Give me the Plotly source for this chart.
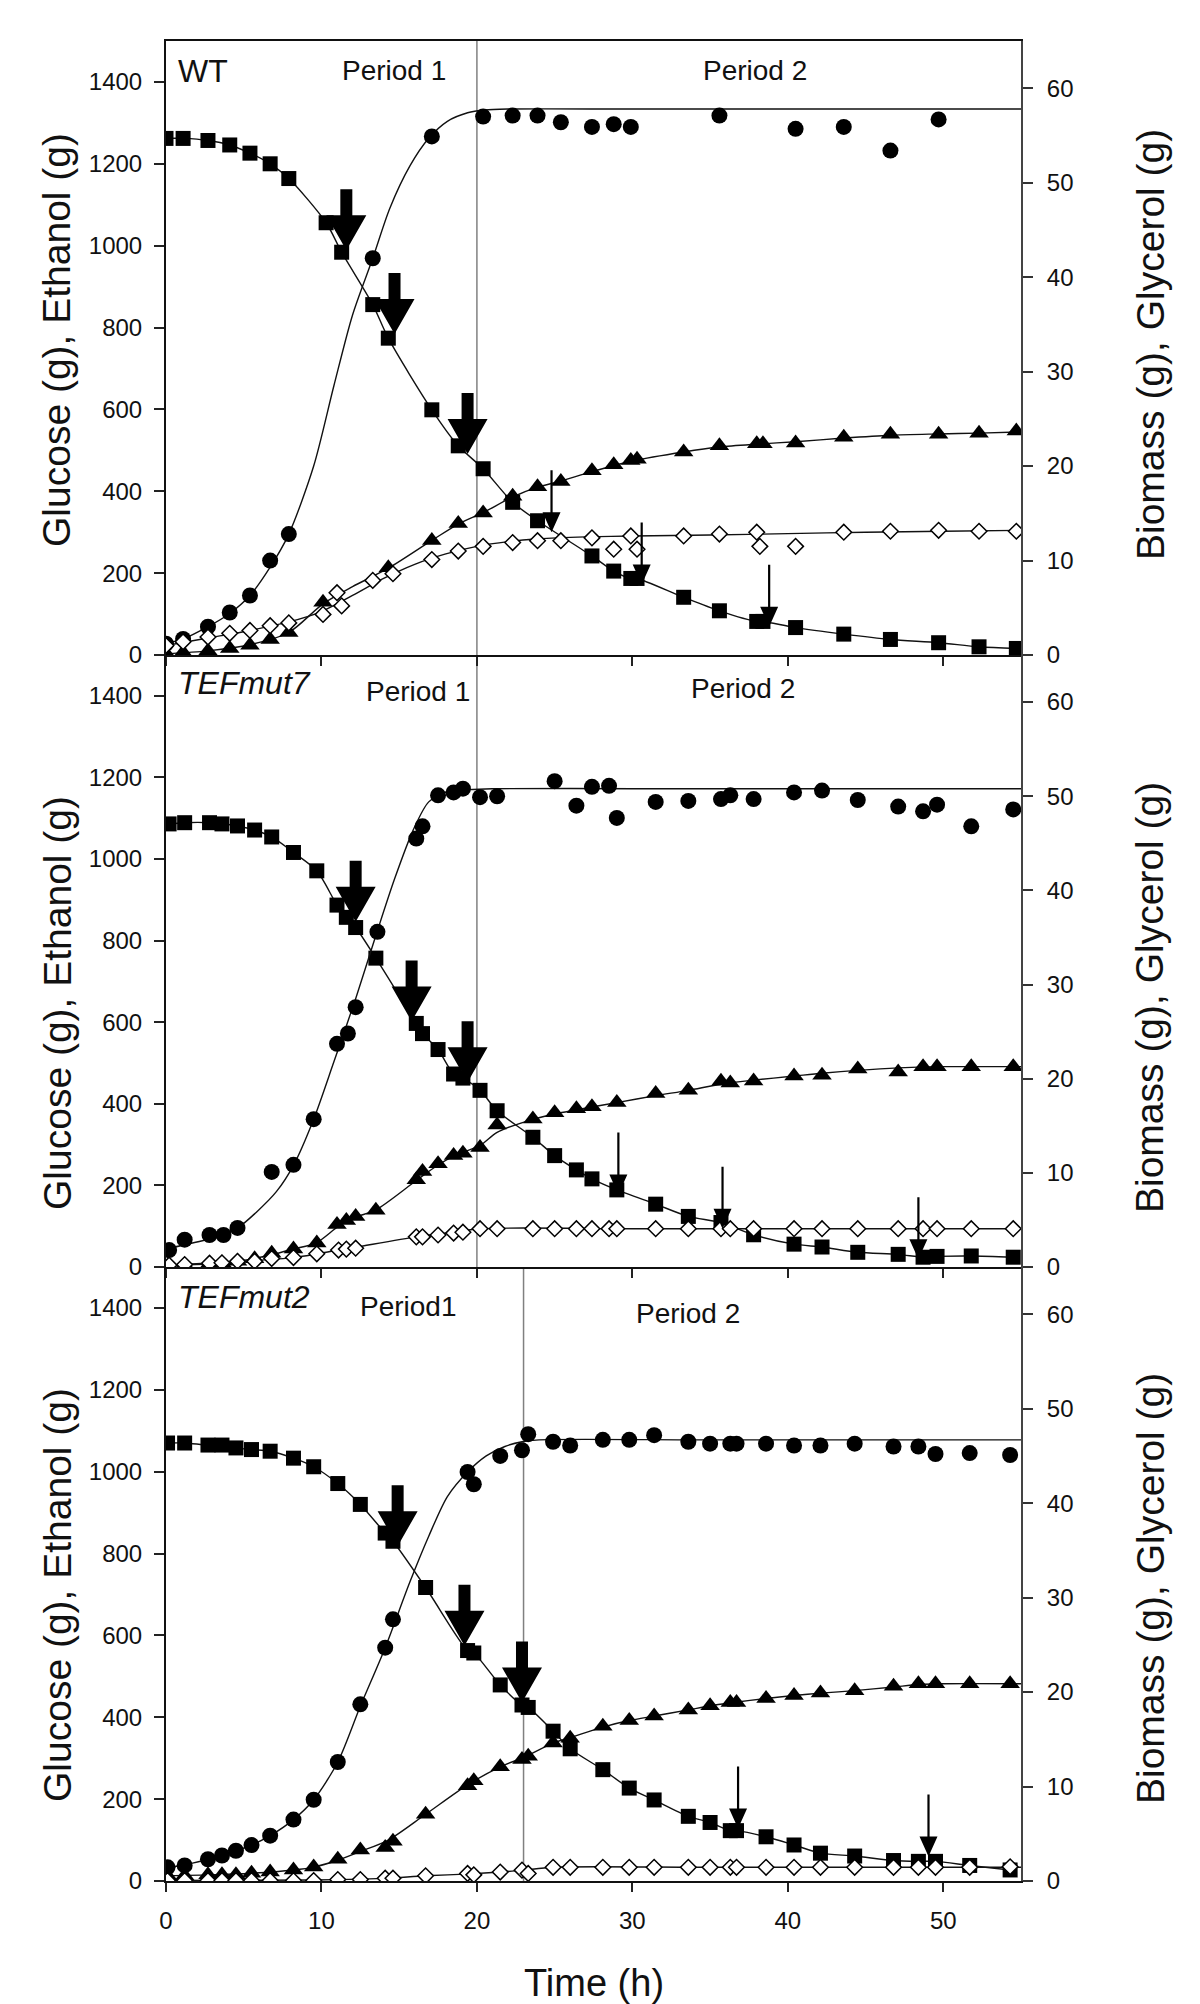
import plotly.graph_objects as go

FONT = "Liberation Sans, Arial, sans-serif"
W, H = 1200, 2004
PLOT_L, PLOT_R = 158, 1013
TOP, BOTTOM = 33, 1873
PANEL_TOPS = [33, 647, 1259]
PANEL_BOTS = [647, 1259, 1873]
T_RANGE = [0, 55]
LEFT_RANGE = [0, 1500]
RIGHT_RANGE = [0, 65]

# ---------------- WT ----------------
wt_glc_t = [0, 1.1, 2.7, 4.1, 5.4, 6.7, 7.9, 10.3, 11.3, 13.3, 14.3, 17.1, 18.8, 20.4, 22.3, 23.9, 27.4, 28.8,
            29.9, 30.3, 33.3, 35.6, 38.0, 38.4, 40.5, 43.6, 46.6, 49.7, 52.3, 54.7]
wt_glc = [1262, 1262, 1257, 1246, 1226, 1200, 1164, 1056, 984, 856, 774, 599, 511, 455, 373, 328, 242, 205,
          187, 187, 141, 108, 82, 82, 67, 51, 38, 30, 20, 16]
wt_eth_t = [0, 1.1, 2.7, 4.1, 5.4, 6.7, 7.9, 10.1, 14.3, 17.1, 18.8, 20.4, 22.3, 23.9, 25.4, 27.4, 28.8, 29.9,
            30.3, 33.3, 35.6, 38.0, 38.4, 40.5, 43.6, 46.6, 49.7, 52.3, 54.7]
wt_eth = [4, 6, 10, 16, 24, 38, 55, 129, 213, 280, 321, 347, 388, 411, 424, 450, 465, 475,
          478, 496, 511, 516, 516, 518, 532, 539, 539, 542, 547]
wt_bio_t = [0, 1.1, 2.7, 4.1, 5.4, 6.7, 7.9, 13.3, 17.1, 20.4, 22.3, 23.9, 25.4, 27.4, 28.8, 29.9, 35.6, 40.5,
            43.6, 46.6, 49.7]
wt_bio = [1.2, 1.7, 3.0, 4.5, 6.3, 10.0, 12.8, 42.0, 54.9, 57.0, 57.1, 57.1, 56.4, 55.9, 56.2, 55.9, 57.1, 55.7,
          55.9, 53.4, 56.7]
wt_gly_t = [0, 1.1, 2.7, 4.1, 5.4, 6.7, 7.9, 10.1, 11.0, 11.3, 13.3, 14.6, 17.1, 18.8, 20.4, 22.3, 23.9, 25.4,
            27.4, 28.8, 29.9, 30.3, 33.3, 35.6, 38.0, 38.2, 40.5, 43.6, 46.6, 49.7, 52.3, 54.7]
wt_gly = [1.0, 1.4, 1.9, 2.3, 2.6, 3.1, 3.4, 4.3, 6.6, 5.2, 7.9, 8.6, 10.1, 11.0, 11.5, 11.9, 12.1, 12.1,
          12.4, 11.2, 12.6, 11.2, 12.6, 12.8, 13.0, 11.5, 11.5, 13.0, 13.1, 13.2, 13.1, 13.1]
# fitted curves
wt_eth_fit_t = [0, 2.7, 5.4, 7.9, 10.1, 12.0, 14.3, 17.1, 18.8, 20.4, 22.3, 23.9, 25.4, 27.4, 30.0, 33.3, 35.6,
                38.0, 40.5, 43.6, 46.6, 49.7, 52.3, 55.0]
wt_eth_fit = [3, 10, 25, 55, 125, 167, 212, 280, 320, 348, 386, 410, 425, 448, 474, 496, 508,
              515, 521, 530, 537, 540, 542, 545]
wt_bio_fit_t = [0, 1.1, 2.7, 4.1, 5.4, 6.7, 7.9, 9.5, 10.8, 12.0, 13.3, 14.4, 15.7, 16.9, 18.1, 19.4, 20.5, 22,
                30, 40, 55]
wt_bio_fit = [1.2, 1.7, 3.0, 4.4, 6.3, 9.3, 12.8, 20.0, 28.5, 36.0, 42.0, 47.3, 51.8, 54.7, 56.5, 57.4, 57.7, 57.8,
              57.8, 57.8, 57.8]
wt_gly_fit_t = [0, 2.7, 5.4, 7.9, 10.0, 12.0, 14.0, 16.0, 18.0, 20.0, 22.0, 24.0, 27.0, 30.0, 35.0, 40.0, 45.0,
                50.0, 55.0]
wt_gly_fit = [1.0, 1.8, 2.6, 3.5, 4.6, 6.3, 8.1, 9.6, 10.7, 11.5, 12.0, 12.3, 12.5, 12.6, 12.7, 12.85, 13.0,
              13.1, 13.2]
wt_big_arrow_t = [11.6, 14.7, 19.4]
wt_big_arrow_v = [989, 784, 491]
wt_thin_arrow_t = [24.8, 30.6, 38.8]
wt_thin_arrow_v = [300, 172, 69]

# ---------------- TEFmut7 ----------------
m7_glc_t = [0.2, 1.2, 2.8, 3.6, 4.6, 5.7, 6.8, 8.2, 9.7, 11.0, 11.6, 12.2, 13.5, 16.1, 16.5, 17.5, 18.5, 19.1,
            20.2, 21.3, 23.6, 25.0, 26.4, 27.4, 29.0, 31.5, 33.6, 35.7, 37.8, 40.4, 42.2, 44.5, 47.1, 48.7,
            49.6, 51.8, 54.5]
m7_glc = [1086, 1089, 1089, 1086, 1081, 1071, 1054, 1016, 971, 887, 857, 832, 757, 597, 572, 533, 473, 463,
          433, 383, 318, 273, 238, 216, 189, 154, 124, 109, 79, 56, 49, 36, 31, 24,
          26, 27, 24]
m7_eth_t = [0.2, 1.2, 2.8, 3.6, 4.6, 5.7, 6.8, 8.2, 9.7, 11.0, 11.6, 12.2, 13.5, 16.1, 16.5, 17.5, 18.5, 19.1,
            20.2, 21.3, 23.6, 25.0, 26.4, 27.4, 29.0, 31.5, 33.6, 35.7, 36.3, 37.8, 40.4, 42.2, 44.5, 47.1,
            48.7, 49.6, 51.8, 54.5]
m7_eth = [3, 5, 8, 10, 14, 20, 34, 44, 59, 104, 114, 124, 139, 214, 234, 253, 273, 279,
          293, 348, 363, 378, 388, 393, 403, 425, 433, 455, 451, 456, 468, 470, 485, 478,
          491, 491, 491, 491]
m7_bio_t = [0.2, 1.2, 2.8, 3.7, 4.6, 6.8, 8.2, 9.5, 11.0, 11.7, 12.2, 13.6, 16.1, 16.5, 17.5, 18.5, 19.1, 20.2,
            21.3, 25.0, 26.4, 27.4, 28.5, 29.0, 31.5, 33.6, 35.7, 36.3, 37.8, 40.4, 42.2, 44.5, 47.1, 48.7,
            49.6, 51.8, 54.5]
m7_bio = [1.8, 2.9, 3.4, 3.4, 4.15, 10.1, 10.85, 15.7, 23.7, 24.8, 27.6, 35.6, 45.5, 46.8, 50.1, 50.4, 50.8, 49.9,
          50.0, 51.6, 49.0, 51.0, 51.1, 47.7, 49.4, 49.5, 49.7, 50.1, 49.7, 50.4, 50.6, 49.6, 48.9, 48.4,
          49.1, 46.8, 48.6]
m7_gly_t = [0.2, 1.2, 2.8, 3.6, 4.6, 5.7, 6.8, 8.2, 9.7, 11.1, 11.6, 12.2, 16.1, 16.5, 17.5, 18.5, 19.1, 20.2,
            21.3, 23.6, 25.0, 26.4, 27.4, 28.5, 29.0, 31.5, 33.6, 35.7, 36.3, 37.8, 40.4, 42.2, 44.5, 47.1,
            48.7, 49.6, 51.8, 54.5]
m7_gly = [0.2, 0.26, 0.4, 0.45, 0.6, 0.6, 0.9, 1.0, 1.4, 1.8, 1.9, 2.0, 3.2, 3.2, 3.4, 3.6, 3.7, 4.07,
          4.07, 4.07, 4.07, 4.07, 4.07, 4.07, 4.07, 4.07, 4.07, 4.07, 4.07, 4.07, 4.07, 4.07, 4.07, 4.07,
          4.07, 4.07, 4.07, 4.07]
m7_eth_fit_t = [0.2, 2.8, 4.6, 6.8, 8.2, 9.7, 11.1, 12.2, 13.5, 16.1, 17.5, 18.5, 20.2, 21.3, 23.6, 25.0, 27.4,
                29.0, 31.5, 33.6, 35.7, 37.8, 40.4, 42.2, 44.5, 47.1, 49.6, 52.0, 55.0]
m7_eth_fit = [3, 8, 14, 30, 44, 60, 100, 122, 140, 212, 250, 272, 298, 330, 362, 375, 392,
              403, 420, 433, 448, 458, 468, 475, 482, 488, 491, 491, 491]
m7_bio_fit_t = [0.2, 2.8, 4.6, 5.8, 7.1, 8.2, 9.5, 10.8, 12.2, 13.5, 14.7, 15.9, 16.9, 18.1, 19.4, 21.0, 30.0,
                40.0, 55.0]
m7_bio_fit = [2.0, 3.0, 4.15, 5.8, 8.0, 10.8, 15.7, 21.8, 28.5, 35.2, 41.2, 46.4, 49.4, 50.5, 50.7, 50.8, 50.8,
              50.8, 50.8]
m7_gly_fit_t = [0.2, 4.6, 8.2, 11.1, 12.2, 16.1, 18.5, 20.2, 30.0, 40.0, 55.0]
m7_gly_fit = [0.2, 0.6, 1.0, 1.8, 2.1, 3.2, 3.7, 4.07, 4.07, 4.07, 4.07]
m7_big_arrow_t = [12.2, 15.8, 19.4]
m7_big_arrow_v = [846, 602, 453]
m7_thin_arrow_t = [29.1, 35.8, 48.4]
m7_thin_arrow_v = [178, 94, 19]

# ---------------- TEFmut2 ----------------
m2_t = [0.1, 1.2, 2.7, 3.6, 4.5, 5.5, 6.7, 8.2, 9.5, 11.05, 12.5, 14.1, 14.6, 16.7, 19.4, 19.8, 21.5, 22.9,
        23.3, 24.9, 26.0, 28.1, 29.8, 31.4, 33.6, 35.0, 36.3, 36.7, 38.6, 40.4, 42.1, 44.3, 46.8, 48.4,
        49.5, 51.7, 54.3]
m2_glc = [1070, 1070, 1065, 1065, 1058, 1054, 1050, 1033, 1012, 971, 920, 850, 830, 717, 563, 557, 479, 430,
          424, 366, 323, 272, 227, 198, 158, 143, 123, 123, 108, 88, 68, 61, 50, 48,
          48, 38, 27]
m2_eth = [13, 13, 15, 15, 15, 19, 22, 27, 34, 53, 76, 82, 97, 163, 233, 245, 279, 297,
          305, 337, 349, 378, 392, 403, 418, 428, 436, 436, 446, 453, 459, 465, 476, 482,
          482, 482, 482]
m2_gly = [0.05, 0.05, 0.05, 0.05, 0.05, 0.05, 0.05, 0.05, 0.05, 0.15, 0.15, 0.3, 0.3, 0.55, 0.8, 0.65, 0.95, 1.15,
          0.8, 1.45, 1.45, 1.45, 1.45, 1.45, 1.45, 1.45, 1.45, 1.45, 1.45, 1.45, 1.45, 1.45, 1.45, 1.45,
          1.45, 1.45, 1.5]
m2_bio_t = [0.1, 1.2, 2.7, 3.6, 4.5, 5.5, 6.7, 8.2, 9.5, 11.05, 12.5, 14.1, 14.6, 19.4, 19.8, 21.5, 22.9, 23.3,
            24.9, 26.0, 28.1, 29.8, 31.4, 33.6, 35.0, 36.3, 36.7, 38.6, 40.4, 42.1, 44.3, 46.8, 48.4, 49.5,
            51.7, 54.3]
m2_bio = [1.45, 1.65, 2.3, 2.7, 3.2, 3.8, 4.8, 6.5, 8.6, 12.6, 18.7, 24.7, 27.7, 43.3, 42.0, 45.0, 45.6, 47.3,
          46.5, 46.1, 46.7, 46.7, 47.2, 46.5, 46.3, 46.3, 46.3, 46.3, 46.1, 46.1, 46.3, 46.0, 46.0, 45.2,
          45.3, 45.1]
m2_eth_fit_t = [0.1, 2.7, 5.5, 8.2, 9.5, 11.0, 12.5, 14.3, 16.7, 19.4, 21.5, 23.0, 24.9, 26.0, 28.1, 29.8, 31.4,
                33.6, 35.0, 36.5, 38.6, 40.4, 42.1, 44.3, 46.8, 48.4, 50.0, 55.0]
m2_eth_fit = [13, 15, 19, 27, 34, 50, 72, 100, 163, 235, 279, 302, 337, 350, 376, 392, 403,
              418, 428, 436, 446, 453, 459, 465, 474, 480, 482, 482]
m2_bio_fit_t = [0.1, 1.2, 2.7, 3.6, 4.5, 5.5, 6.7, 8.2, 9.5, 11.05, 12.5, 14.1, 15.7, 16.9, 18.1, 19.4, 20.6,
                21.8, 22.9, 24.0, 35.0, 55.0]
m2_bio_fit = [1.45, 1.7, 2.3, 2.7, 3.2, 3.8, 4.8, 6.5, 8.6, 12.6, 18.5, 24.7, 31.7, 36.5, 40.7, 43.3, 45.0,
              46.0, 46.5, 46.7, 46.7, 46.7]
m2_gly_fit_t = [0.1, 9.5, 11.0, 12.5, 14.3, 16.7, 19.6, 21.5, 23.0, 24.9, 35.0, 55.0]
m2_gly_fit = [0.05, 0.1, 0.15, 0.2, 0.3, 0.55, 0.75, 0.95, 1.15, 1.45, 1.45, 1.45]
m2_big_arrow_t = [14.9, 19.2, 22.9]
m2_big_arrow_v = [818, 575, 436]
m2_thin_arrow_t = [36.8, 49.05]
m2_thin_arrow_v = [128, 60]

# tick labels
left_ticks = [0, 200, 400, 600, 800, 1000, 1200, 1400]
right_ticks = [0, 10, 20, 30, 40, 50, 60]
time_ticks = [0, 10, 20, 30, 40, 50]

panels = [
    dict(label="WT", italic=False, p1="Period 1", p2="Period 2", period_t=20,
         glc=(wt_glc_t, wt_glc), eth=(wt_eth_t, wt_eth), bio=(wt_bio_t, wt_bio), gly=(wt_gly_t, wt_gly),
         eth_fit=(wt_eth_fit_t, wt_eth_fit), bio_fit=(wt_bio_fit_t, wt_bio_fit), gly_fit=(wt_gly_fit_t, wt_gly_fit),
         big=(wt_big_arrow_t, wt_big_arrow_v), thin=(wt_thin_arrow_t, wt_thin_arrow_v),
         lab_pos=(168, 63), p1_pos=(386, 63), p2_pos=(747, 63), ltitle_y=332, rtitle_y=337),
    dict(label="TEFmut7", italic=True, p1="Period 1", p2="Period 2", period_t=20,
         glc=(m7_glc_t, m7_glc), eth=(m7_eth_t, m7_eth), bio=(m7_bio_t, m7_bio), gly=(m7_gly_t, m7_gly),
         eth_fit=(m7_eth_fit_t, m7_eth_fit), bio_fit=(m7_bio_fit_t, m7_bio_fit), gly_fit=(m7_gly_fit_t, m7_gly_fit),
         big=(m7_big_arrow_t, m7_big_arrow_v), thin=(m7_thin_arrow_t, m7_thin_arrow_v),
         lab_pos=(168, 675), p1_pos=(410, 683), p2_pos=(735, 681), ltitle_y=995, rtitle_y=990),
    dict(label="TEFmut2", italic=True, p1="Period1", p2="Period 2", period_t=23,
         glc=(m2_t, m2_glc), eth=(m2_t, m2_eth), bio=(m2_bio_t, m2_bio), gly=(m2_t, m2_gly),
         eth_fit=(m2_eth_fit_t, m2_eth_fit), bio_fit=(m2_bio_fit_t, m2_bio_fit), gly_fit=(m2_gly_fit_t, m2_gly_fit),
         big=(m2_big_arrow_t, m2_big_arrow_v), thin=(m2_thin_arrow_t, m2_thin_arrow_v),
         lab_pos=(168, 1289), p1_pos=(400, 1298), p2_pos=(680, 1305), ltitle_y=1587, rtitle_y=1581),
]


def fx(px):
    return (px - PLOT_L) / (PLOT_R - PLOT_L)


def fy(py):
    return (BOTTOM - py) / (BOTTOM - TOP)


def ax_name(kind, n):
    return kind if n == 1 else f"{kind}{n}"


BIG_ARROW = "M 0,0 L -20,35 L -6,35 L -6,61 L 6,61 L 6,35 L 20,35 Z"
THIN_ARROW = "M 0,0 L -9,20 L -1.1,20 L -1.1,62 L 1.1,62 L 1.1,20 L 9,20 Z"

fig = go.Figure()
shapes = []
annotations = []
layout_axes = {}

tick_font = dict(family=FONT, size=24, color="#111")

for i, p in enumerate(panels):
    xn = i + 1
    yl = 2 * i + 1
    yr = 2 * i + 2
    xref = ax_name("x", xn)
    ylref = ax_name("y", yl)
    yrref = ax_name("y", yr)
    dom = [fy(PANEL_BOTS[i]), fy(PANEL_TOPS[i])]
    bottom_panel = (i == len(panels) - 1)

    layout_axes[ax_name("xaxis", xn)] = dict(
        domain=[0, 1], range=T_RANGE, anchor=ylref, tickvals=time_ticks,
        ticks="outside", ticklen=9, tickwidth=1.5, tickcolor="#222",
        showline=True, linecolor="#111", linewidth=2, mirror=(i == 0),
        showgrid=False, zeroline=False, showticklabels=bottom_panel,
        tickfont=tick_font, ticklabelstandoff=8)
    layout_axes[ax_name("yaxis", yl)] = dict(
        domain=dom, range=LEFT_RANGE, anchor=xref, tickvals=left_ticks,
        ticks="outside", ticklen=10, tickwidth=1.5, tickcolor="#222",
        showline=True, linecolor="#111", linewidth=2,
        showgrid=False, zeroline=False, tickfont=tick_font, ticklabelstandoff=7)
    layout_axes[ax_name("yaxis", yr)] = dict(
        overlaying=ylref, side="right", range=RIGHT_RANGE, anchor=xref, tickvals=right_ticks,
        ticks="outside", ticklen=10, tickwidth=1.5, tickcolor="#333",
        showline=True, linecolor="#444", linewidth=2,
        showgrid=False, zeroline=False, tickfont=tick_font, ticklabelstandoff=9)

    # period separator
    shapes.append(dict(type="line", xref=xref, yref=f"{ylref} domain", x0=p["period_t"], x1=p["period_t"],
                       y0=0, y1=1, line=dict(color="#808080", width=1.5), layer="below"))

    line_style = dict(color="#111", width=1.4, shape="spline", smoothing=0.8)
    # curves
    fig.add_trace(go.Scatter(x=p["glc"][0], y=p["glc"][1], mode="lines", line=line_style,
                             xaxis=xref, yaxis=ylref, showlegend=False, hoverinfo="skip"))
    fig.add_trace(go.Scatter(x=p["eth_fit"][0], y=p["eth_fit"][1], mode="lines", line=line_style,
                             xaxis=xref, yaxis=ylref, showlegend=False, hoverinfo="skip"))
    fig.add_trace(go.Scatter(x=p["bio_fit"][0], y=p["bio_fit"][1], mode="lines", line=line_style,
                             xaxis=xref, yaxis=yrref, showlegend=False, hoverinfo="skip"))
    fig.add_trace(go.Scatter(x=p["gly_fit"][0], y=p["gly_fit"][1], mode="lines", line=line_style,
                             xaxis=xref, yaxis=yrref, showlegend=False, hoverinfo="skip"))
    # markers
    fig.add_trace(go.Scatter(x=p["glc"][0], y=p["glc"][1], mode="markers", name="Glucose",
                             marker=dict(symbol="square", size=15, color="#000"),
                             xaxis=xref, yaxis=ylref, showlegend=False))
    fig.add_trace(go.Scatter(x=p["eth"][0], y=p["eth"][1], mode="markers", name="Ethanol",
                             marker=dict(symbol="triangle-up", size=17, color="#000"),
                             xaxis=xref, yaxis=ylref, showlegend=False))
    fig.add_trace(go.Scatter(x=p["bio"][0], y=p["bio"][1], mode="markers", name="Biomass",
                             marker=dict(symbol="circle", size=16, color="#000"),
                             xaxis=xref, yaxis=yrref, showlegend=False))
    fig.add_trace(go.Scatter(x=p["gly"][0], y=p["gly"][1], mode="markers", name="Glycerol",
                             marker=dict(symbol="diamond", size=12, color="#fff",
                                         line=dict(color="#000", width=1.5)),
                             xaxis=xref, yaxis=yrref, showlegend=False))

    # arrows
    for t, v in zip(*p["big"]):
        shapes.append(dict(type="path", xref=xref, yref=ylref, xsizemode="pixel", ysizemode="pixel",
                           xanchor=t, yanchor=v, path=BIG_ARROW, fillcolor="#000",
                           line=dict(width=0), layer="above"))
    for t, v in zip(*p["thin"]):
        shapes.append(dict(type="path", xref=xref, yref=ylref, xsizemode="pixel", ysizemode="pixel",
                           xanchor=t, yanchor=v, path=THIN_ARROW, fillcolor="#000",
                           line=dict(width=0), layer="above"))

    # texts
    lx, ly = p["lab_pos"]
    lab = f"<i>{p['label']}</i>" if p["italic"] else p["label"]
    annotations.append(dict(text=lab, xref="paper", yref="paper", x=fx(lx), y=fy(ly),
                            xanchor="left", yanchor="middle", showarrow=False,
                            font=dict(family=FONT, size=32, color="#111")))
    for key, txt in (("p1_pos", p["p1"]), ("p2_pos", p["p2"])):
        px_, py_ = p[key]
        annotations.append(dict(text=txt, xref="paper", yref="paper", x=fx(px_), y=fy(py_),
                                xanchor="center", yanchor="middle", showarrow=False,
                                font=dict(family=FONT, size=28, color="#111")))
    annotations.append(dict(text="Glucose (g), Ethanol (g)", xref="paper", yref="paper",
                            x=fx(49), y=fy(p["ltitle_y"]), xanchor="center", yanchor="middle",
                            textangle=-90, showarrow=False, font=dict(family=FONT, size=39, color="#111")))
    annotations.append(dict(text="Biomass (g), Glycerol (g)", xref="paper", yref="paper",
                            x=fx(1142), y=fy(p["rtitle_y"]), xanchor="center", yanchor="middle",
                            textangle=-90, showarrow=False, font=dict(family=FONT, size=39, color="#111")))

annotations.append(dict(text="Time (h)", xref="paper", yref="paper", x=fx(586), y=fy(1975),
                        xanchor="center", yanchor="middle", showarrow=False,
                        font=dict(family=FONT, size=38, color="#111")))

fig.update_layout(
    width=W, height=H,
    margin=dict(l=PLOT_L, r=W - PLOT_R, t=TOP, b=H - BOTTOM, autoexpand=False),
    paper_bgcolor="white", plot_bgcolor="white",
    shapes=shapes, annotations=annotations, showlegend=False,
    font=dict(family=FONT, color="#111"),
    **layout_axes,
)

fig.write_html("out.html")
